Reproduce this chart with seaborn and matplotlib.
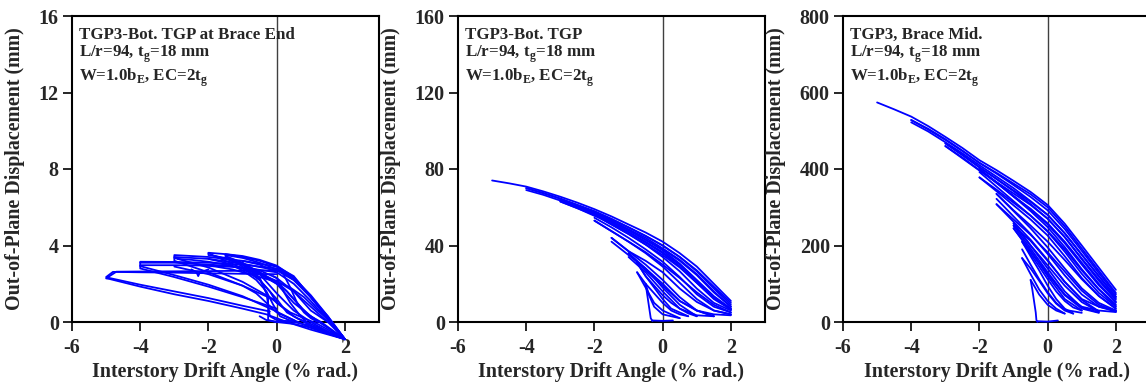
import matplotlib
matplotlib.use('Agg')
import matplotlib.pyplot as plt
import pandas as pd
import seaborn as sns

# ── Data: out-of-plane displacement loops (drift %, displacement mm) ──────────
# Panel 1 — bottom TGP at brace end
end_x = [
    [2, 1.5, 1, 0.5, 0, -1, -2, -3, -4, -4.7, -5, -4.9, -4, -3, -2, -1, -0.3, 0.3, 1, 2],
    [0, -1, -2, -3, -4, -4.8, -5, -4.9, -4, -3, -2, -1, -0.2],
    [2, 1.5, 1, 0.5, 0, -1, -2, -3, -4, -4, -3, -2, -1, -0.1, 0.5, 1, 2],
    [0, -1, -2, -3, -4, -4, -3, -2, -1, 0],
    [2, 1.5, 1, 0.5, 0, -1, -2, -3, -3, -2, -1, -0.2, 0.5, 1, 2],
    [0, -1, -2, -3, -3, -2, -1, 0],
    [2, 1.5, 1, 0.5, 0, -0.5, -1, -1.5, -2, -2, -1.5, -1, -0.5, 0, 0.5, 1, 1.5, 2],
    [-2, -1.5, -1, -0.5, 0, 0.3, 0.6, 1, 2],
    [2, 1.5, 1, 0.5, 0, -0.5, -1, -1.5, -1.5, -1, -0.5, 0, 0.5, 1, 2],
    [-1.5, -1, -0.5, -0.2, 0, 0.4, 0.8, 1.2, 2],
    [2, 1.5, 1, 0.5, 0, -0.5, -1, -1, -0.5, -0.25, -0.25, 0, 0.5, 1, 2],
    [-1, -0.5, 0, 0.3, 0.6, 0.9, 1.3, 2],
    [1.5, 1, 0.5, 0, -0.5, -0.75, -0.5, -0.3, -0.2, 0, 0.5, 1.0, 1.5],
    [0.2, 0.4, 0.6, 0.8, 1.0, 1.2],
    [-2.5, -2.35, -2.3, -2.25, -2.0],
    [-0.5, -0.3, 0, 0.3, 0.5],
    [-2.9, -2.5, -2, -1.5, -1, -0.5, 0, 0.5, 1, 1.5, 2],
    [-1.8, -1.5, -1, -0.5, 0, 0.25, 0.5, 0.75, 1.0, 1.5],
    [2, 1.5, 1, 0.7, 0.4, 0.2, 0.1, 0.0, -0.1],
    [-3, -2.5, -2, -1.5, -1, -0.6, -0.3, 0, 0.5],
    [-1.5, -1, -0.5, 0, 0.5, 1, 1.5, 2],
    [-2, -1.5, -1, -0.6, -0.3, -0.1, 0.1, 0.5],
    [-4, -3.5, -3, -2.5, -2, -1.5, -1, -0.5],
    [-2.3, -1.8, -1.3, -0.8, -0.4, 0, 0.4, 0.8, 1.2, 1.6, 2],
]
end_y = [
    [-0.9, 0.2, 1.3, 2.2, 2.7, 2.68, 2.66, 2.65, 2.64, 2.63, 2.28, 2.25, 1.85, 1.45, 1.1, 0.7, 0.4, 0.0, -0.4, -0.9],
    [2.5, 2.52, 2.55, 2.58, 2.6, 2.62, 2.35, 2.3, 1.95, 1.6, 1.25, 0.85, 0.55],
    [-0.9, 0.3, 1.4, 2.3, 2.8, 3.0, 3.1, 3.14, 3.15, 2.92, 2.45, 1.95, 1.35, 0.63, 0.1, -0.3, -0.9],
    [2.6, 2.85, 2.95, 2.97, 2.97, 2.8, 2.35, 1.85, 1.3, 0.7],
    [-0.9, 0.2, 1.3, 2.4, 2.9, 3.2, 3.4, 3.5, 3.35, 2.85, 2.1, 1.3, 0.3, -0.2, -0.9],
    [2.7, 3.05, 3.3, 3.4, 3.2, 2.6, 1.9, 1.1],
    [-0.9, 0.2, 1.3, 2.3, 2.9, 3.2, 3.4, 3.55, 3.62, 3.5, 3.35, 3.05, 2.5, 1.5, 0.6, 0.0, -0.5, -0.9],
    [3.6, 3.2, 2.8, 2.2, 1.2, 0.5, 0.2, -0.1, -0.9],
    [-0.9, 0.25, 1.35, 2.35, 2.95, 3.25, 3.45, 3.55, 3.45, 3.1, 2.6, 2.0, 1.0, 0.3, -0.9],
    [3.4, 2.9, 2.2, 1.6, 1.0, 0.5, 0.2, -0.1, -0.9],
    [-0.9, 0.1, 1.1, 2.0, 2.6, 3.0, 3.2, 3.0, 2.3, 1.3, 0.1, 0.0, -0.1, -0.3, -0.9],
    [2.8, 2.5, 2.0, 1.6, 1.0, 0.4, 0.0, -0.9],
    [0.0, 0.6, 1.6, 2.3, 2.7, 2.8, 2.3, 1.5, 0.3, 0.1, 0.0, -0.2, -0.5],
    [2.5, 1.8, 1.0, 0.5, 0.2, 0.0],
    [2.75, 2.6, 2.4, 2.6, 2.75],
    [0.3, 0.1, 0.0, 0.05, 0.1],
    [3.3, 3.25, 3.15, 3.0, 2.8, 2.5, 2.15, 1.6, 0.8, 0.0, -0.9],
    [3.45, 3.3, 3.0, 2.6, 2.1, 1.7, 1.2, 0.7, 0.3, -0.3],
    [-0.9, -0.6, -0.2, 0.3, 1.0, 1.6, 2.0, 2.3, 2.4],
    [2.9, 2.7, 2.5, 2.2, 1.9, 1.5, 1.0, 0.5, 0.1],
    [3.5, 3.35, 3.1, 2.75, 2.2, 1.3, 0.3, -0.9],
    [3.3, 3.1, 2.7, 2.2, 1.6, 0.9, 0.3, 0.0],
    [3.1, 3.1, 3.1, 3.05, 3.0, 2.95, 2.85, 2.6],
    [3.0, 2.9, 2.75, 2.5, 2.3, 2.1, 1.8, 1.3, 0.6, 0.0, -0.9],
]

# Panel 2 — bottom TGP
tgp_x = [
    [-5, -4.5, -4, -3.5, -3, -2.5, -2, -1.5, -1, -0.5, 0, 0.5, 1, 1.5, 2],
    [2, 1.5, 1, 0.5, 0, -0.5, -1, -1.5, -2, -2.5, -3, -3.5, -4],
    [-4, -3.5, -3, -2.5, -2, -1.5, -1, -0.5, 0, 0.5, 1, 1.5, 2],
    [-4, -3.5, -3, -2.5, -2, -1.5, -1, -0.5, 0, 0.5, 1, 1.5, 2],
    [2, 1.5, 1, 0.5, 0, -0.5, -1, -1.5, -2, -2.5, -3],
    [-3, -2.5, -2, -1.5, -1, -0.5, 0, 0.5, 1, 1.5, 2],
    [2, 1.5, 1, 0.5, 0, -0.5, -1, -1.5, -2, -2.5, -3],
    [-3, -2.5, -2, -1.5, -1, -0.5, 0, 0.5, 1, 1.5, 2],
    [2, 1.5, 1, 0.5, 0, -0.5, -1, -1.5, -2],
    [-2, -1.5, -1, -0.5, 0, 0.5, 1, 1.5, 2],
    [2, 1.5, 1, 0.5, 0, -0.5, -1, -1.5, -2],
    [-2, -1.5, -1, -0.5, 0, 0.5, 1, 1.5, 2],
    [-2, -1.5, -1, -0.5, 0, 0.5, 1, 1.5, 2],
    [2, 1.5, 1, 0.5, 0, -0.5, -1, -1.5],
    [-1.5, -1, -0.5, 0, 0.5, 1, 1.5],
    [-1.5, -1, -0.5, 0, 0.5, 1, 1.5, 2],
    [1.5, 1, 0.5, 0, -0.5, -1],
    [-1, -0.5, 0, 0.5, 1],
    [-1, -0.5, 0, 0.5, 1, 1.5],
    [1, 0.75, 0.5, 0.25, 0, -0.25, -0.5, -0.75],
    [-0.75, -0.5, -0.25, 0, 0.25, 0.5, 0.75],
    [0.75, 0.5, 0.25, 0, -0.25, -0.5, -0.75],
    [-0.75, -0.5, -0.25, 0, 0.25, 0.5],
    [0.5, 0.25, 0, -0.25, -0.4, -0.5],
    [-0.5, -0.45, -0.4, -0.35, -0.3],
    [-0.3, 0, 0.3],
]
tgp_y = [
    [74, 72.5, 70.8, 68.3, 65.5, 62.4, 59, 55.2, 51, 46.8, 42, 36, 29, 20, 11],
    [10, 18.5, 27, 34, 40, 45, 49.5, 53.6, 57.5, 61, 64.5, 67.5, 70],
    [70, 67.3, 64.5, 61.3, 58, 54, 49.5, 45, 40, 34, 26.5, 17.5, 9],
    [69, 66.5, 63.5, 60.3, 57, 53, 48.5, 44, 38.5, 32.5, 25, 16, 8],
    [8, 15.5, 24.5, 32, 38, 43, 48, 52.5, 56.5, 60.5, 64],
    [64, 60.5, 57, 52.5, 48, 43, 37.5, 30.5, 22, 13.5, 7],
    [6.5, 13, 21.5, 30, 36.5, 42, 47, 52, 55.5, 59.5, 63],
    [63, 59.5, 56, 51.5, 47, 41.5, 36, 29, 20.5, 12, 6.5],
    [7, 12.5, 20.5, 28.5, 35, 40.5, 46, 51, 56],
    [56, 51, 46, 40.5, 34, 26.5, 17.5, 10, 6],
    [5, 9, 15.5, 23, 30, 36.5, 42, 47.5, 53],
    [53, 47.5, 42, 36, 29, 20.5, 12, 6, 4],
    [54.5, 49.5, 44, 38, 31.5, 23.5, 14.5, 8, 5],
    [4, 6, 10.5, 17.5, 26, 32, 37, 44],
    [44, 37, 30, 22, 13, 6, 3],
    [42, 35, 28, 20, 11, 6, 4, 3.5],
    [3, 6, 11, 19, 27, 36],
    [36, 28, 18, 9, 3],
    [34, 26, 16, 7, 3.5, 3],
    [3, 4.5, 7, 10, 14, 19, 24, 31],
    [31, 24, 18, 12, 7, 5, 3],
    [3, 4, 6, 10, 15, 20, 26],
    [26, 18, 10, 6, 4, 2],
    [2, 3, 4, 8, 14, 20],
    [20, 14, 8, 2, 0.5],
    [0.8, 0.6, 0.8],
]

# Panel 3 — brace mid-length
mid_x = [
    [-5, -4.5, -4, -3.5, -3, -2.5, -2, -1.5, -1, -0.5, 0, 0.5, 1, 1.5, 2],
    [2, 1.5, 1, 0.5, 0, -0.5, -1, -1.5, -2, -2.5, -3, -3.5, -4],
    [-4, -3.5, -3, -2.5, -2, -1.5, -1, -0.5, 0, 0.5, 1, 1.5, 2],
    [-4, -3.5, -3, -2.5, -2, -1.5, -1, -0.5, 0, 0.5, 1, 1.5, 2],
    [2, 1.5, 1, 0.5, 0, -0.5, -1, -1.5, -2, -2.5, -3],
    [-3, -2.5, -2, -1.5, -1, -0.5, 0, 0.5, 1, 1.5, 2],
    [2, 1.5, 1, 0.5, 0, -0.5, -1, -1.5, -2, -2.5, -3],
    [-3, -2.5, -2, -1.5, -1, -0.5, 0, 0.5, 1, 1.5, 2],
    [2, 1.5, 1, 0.5, 0, -0.5, -1, -1.5, -2],
    [-2, -1.5, -1, -0.5, 0, 0.5, 1, 1.5, 2],
    [2, 1.5, 1, 0.5, 0, -0.5, -1, -1.5, -2],
    [-2, -1.5, -1, -0.5, 0, 0.5, 1, 1.5, 2],
    [-2, -1.5, -1, -0.5, 0, 0.5, 1, 1.5, 2],
    [2, 1.5, 1, 0.5, 0, -0.5, -1, -1.5],
    [-1.5, -1, -0.5, 0, 0.5, 1, 1.5, 2],
    [-1.5, -1, -0.5, 0, 0.5, 1, 1.5, 2],
    [2, 1.5, 1, 0.5, 0, -0.5, -1, -1.5],
    [-1.5, -1, -0.5, 0, 0.5, 1, 1.5],
    [1.5, 1, 0.5, 0, -0.5, -1],
    [-1, -0.5, 0, 0.5, 1, 1.5],
    [-1, -0.5, 0, 0.5, 1, 1.5, 2],
    [2, 1.5, 1, 0.5, 0, -0.5, -1],
    [1.5, 1, 0.5, 0, -0.5, -1],
    [-1, -0.5, 0, 0.5, 1],
    [1, 0.75, 0.5, 0.25, 0, -0.25, -0.5, -0.75],
    [-0.75, -0.5, -0.25, 0, 0.25, 0.5, 0.75],
    [-0.75, -0.5, -0.25, 0, 0.25, 0.5, 1],
    [0.75, 0.5, 0.25, 0, -0.25, -0.5, -0.75],
    [-0.75, -0.5, -0.25, 0, 0.25, 0.5],
    [0.5, 0.25, 0, -0.25, -0.4, -0.5],
    [-0.5, -0.45, -0.4, -0.35, -0.33, -0.3],
    [-0.3, 0, 0.3],
]
mid_y = [
    [574, 556, 537, 512, 484, 455, 423, 397, 369, 340, 306, 257, 200, 142, 84],
    [76, 134, 192, 250, 300, 334, 362, 390, 416, 448, 478, 505, 528],
    [528, 503, 476, 447, 416, 388, 358, 327, 292, 243, 186, 128, 72],
    [522, 498, 470, 441, 410, 380, 350, 316, 280, 232, 176, 120, 66],
    [66, 120, 176, 232, 280, 314, 344, 374, 404, 436, 467],
    [467, 437, 405, 374, 342, 308, 270, 222, 164, 108, 58],
    [62, 112, 166, 222, 270, 306, 336, 366, 396, 428, 460],
    [460, 430, 397, 364, 330, 294, 255, 206, 150, 96, 52],
    [52, 100, 155, 210, 258, 296, 328, 365, 400],
    [400, 364, 328, 290, 248, 196, 138, 86, 46],
    [42, 85, 135, 190, 238, 278, 312, 346, 378],
    [378, 342, 305, 268, 226, 172, 115, 68, 36],
    [392, 354, 316, 278, 236, 184, 126, 76, 40],
    [34, 68, 112, 162, 210, 252, 292, 335],
    [335, 290, 245, 195, 140, 88, 50, 30],
    [322, 276, 230, 178, 122, 72, 40, 27],
    [28, 45, 82, 132, 182, 228, 268, 308],
    [308, 262, 215, 162, 105, 58, 28],
    [27, 52, 95, 148, 200, 258],
    [258, 200, 140, 80, 38, 25],
    [252, 192, 130, 72, 40, 30, 26],
    [30, 40, 60, 105, 160, 212, 252],
    [24, 35, 70, 125, 185, 245],
    [245, 185, 120, 60, 30],
    [30, 38, 55, 80, 112, 145, 178, 210],
    [210, 172, 135, 95, 60, 35, 22],
    [190, 150, 112, 78, 50, 32, 24],
    [22, 30, 48, 75, 108, 140, 167],
    [167, 125, 85, 55, 35, 22],
    [22, 30, 45, 72, 95, 110],
    [110, 85, 55, 25, 5, 0],
    [2, 1, 4],
]

titles = [
    'TGP3-Bot. TGP at Brace End\n'
    'L/r=94, t$_\\mathregular{g}$=18 mm\n'
    'W=1.0b$_\\mathregular{E}$, EC=2t$_\\mathregular{g}$',
    'TGP3-Bot. TGP\n'
    'L/r=94, t$_\\mathregular{g}$=18 mm\n'
    'W=1.0b$_\\mathregular{E}$, EC=2t$_\\mathregular{g}$',
    'TGP3, Brace Mid.\n'
    'L/r=94, t$_\\mathregular{g}$=18 mm\n'
    'W=1.0b$_\\mathregular{E}$, EC=2t$_\\mathregular{g}$',
]
y_max   = [16, 160, 800]
y_ticks = [[0, 4, 8, 12, 16], [0, 40, 80, 120, 160], [0, 200, 400, 600, 800]]
x_ticks = [-6, -4, -2, 0, 2]

# ── Style ──────────────────────────────────────────────────────────────────────
sns.set_theme(style='white')
plt.rcParams.update({
    'font.family':        ['Liberation Serif', 'DejaVu Serif'],
    'font.weight':        'bold',
    'axes.labelweight':   'bold',
    'axes.unicode_minus': False,
    'mathtext.fontset':   'custom',
    'mathtext.rm':        'Liberation Serif:bold',
    'mathtext.bf':        'Liberation Serif:bold',
    'axes.edgecolor':     'black',
    'axes.linewidth':     1.5,
})

BLUE = '#0000ff'


def make_frame(xs, ys):
    rows = []
    for i, (xx, yy) in enumerate(zip(xs, ys)):
        for j, (a, b) in enumerate(zip(xx, yy)):
            rows.append({'loop': i, 'order': j, 'x': a, 'y': b})
    return pd.DataFrame(rows)


fig = plt.figure(figsize=(11.46, 3.83), dpi=100)
lefts = [72 / 1146, 458 / 1146, 843 / 1146]
panels = [(end_x, end_y), (tgp_x, tgp_y), (mid_x, mid_y)]
label_x = [-0.153, -0.186, -0.186]

for k, (xs, ys) in enumerate(panels):
    ax = fig.add_axes([lefts[k], 1 - 322 / 383, 307 / 1146, 306 / 383])
    df = make_frame(xs, ys)
    ax.axvline(0, color='#404040', lw=1.0, zorder=1)
    sns.lineplot(data=df, x='x', y='y', units='loop', estimator=None, sort=False,
                 color=BLUE, lw=1.3, ax=ax, legend=False, zorder=3)
    for ln in ax.lines:
        ln.set_clip_on(False)
    ax.set_xlim(-6, 3)
    ax.set_ylim(0, y_max[k])
    ax.set_xticks(x_ticks)
    ax.set_yticks(y_ticks[k])
    ax.tick_params(direction='out', length=6.5, width=1.4, labelsize=14.5,
                   bottom=True, left=True, top=False, right=False)
    ax.tick_params(axis='x', pad=5)
    ax.tick_params(axis='y', pad=3)
    for s in ax.spines.values():
        s.set_linewidth(1.5)
        s.set_color('black')
    ax.set_xlabel('Interstory Drift Angle (% rad.)', fontsize=14.4, fontweight='bold')
    ax.set_ylabel('Out-of-Plane Displacement (mm)', fontsize=14.4, fontweight='bold')
    ax.yaxis.set_label_coords(label_x[k], 0.5)
    ax.xaxis.set_label_coords(0.5, -0.131)
    ax.text(0.023, 0.965, titles[k], transform=ax.transAxes, ha='left', va='top',
            fontsize=12.2, fontweight='bold', linespacing=1.1)

fig.savefig('out.png', dpi=100, facecolor='white')
